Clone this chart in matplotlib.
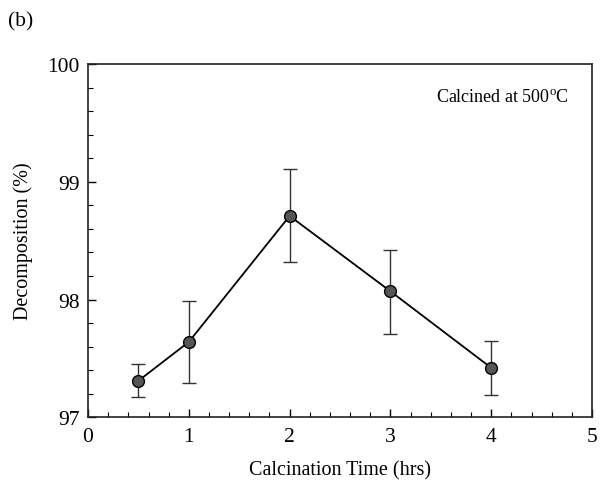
import matplotlib
matplotlib.use("Agg")
import matplotlib.pyplot as plt
from matplotlib.ticker import MultipleLocator

plt.rcParams['font.family'] = ['Liberation Serif', 'DejaVu Serif']
plt.rcParams['mathtext.fontset'] = 'custom'
plt.rcParams['mathtext.rm'] = 'Liberation Serif'

time_hrs = [0.5, 1, 2, 3, 4]
decomposition = [97.31, 97.64, 98.71, 98.07, 97.42]
err_low = [97.17, 97.29, 98.32, 97.71, 97.19]
err_high = [97.45, 97.99, 99.11, 98.42, 97.65]

yerr = [[d - l for d, l in zip(decomposition, err_low)],
        [h - d for d, h in zip(decomposition, err_high)]]

fig = plt.figure(figsize=(6.0, 4.89), dpi=100)
ax = fig.add_axes([0.1467, 0.1446, 0.84, 0.7224])

ax.errorbar(time_hrs, decomposition, yerr=yerr, fmt='none', ecolor='#333333',
            elinewidth=1.0, capsize=5, capthick=1.0, zorder=2)
ax.plot(time_hrs, decomposition, '-o', color='black', lw=1.3,
        markerfacecolor='#555555', markeredgecolor='black', markersize=8.5,
        markeredgewidth=1.0, zorder=3)

ax.set_xlim(0, 5)
ax.set_ylim(97, 100)
ax.xaxis.set_major_locator(MultipleLocator(1))
ax.xaxis.set_minor_locator(MultipleLocator(0.2))
ax.yaxis.set_major_locator(MultipleLocator(1))
ax.yaxis.set_minor_locator(MultipleLocator(0.2))
ax.tick_params(which='both', direction='in', top=False, right=False, labelsize=15.5)
ax.tick_params(which='major', length=6, width=1)
ax.tick_params(which='minor', length=3.5, width=0.8)
ax.tick_params(axis='x', pad=7)
ax.tick_params(axis='y', pad=6)
for s in ax.spines.values():
    s.set_linewidth(1.2)
    s.set_color('#222222')

ax.set_xlabel('Calcination Time (hrs)', fontsize=14.5, labelpad=10)
ax.set_ylabel('Decomposition (%)', fontsize=14.5, labelpad=10)

ax.text(0.955, 0.905, r'Calcined at 500$^{\rm o}$C', transform=ax.transAxes,
        ha='right', va='center', fontsize=13)
fig.text(0.013, 0.955, '(b)', ha='left', va='center', fontsize=15.5)

fig.savefig('out.png', dpi=100, facecolor='white')
